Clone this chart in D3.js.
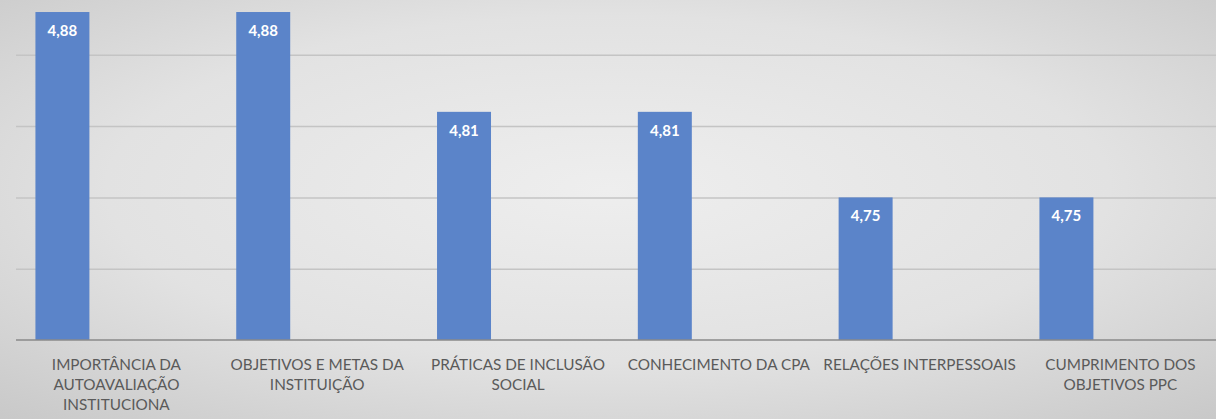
<!DOCTYPE html>
<html>
<head>
<meta charset="utf-8">
<script src="https://cdn.jsdelivr.net/npm/d3@7"></script>
<style>
  html, body { margin: 0; padding: 0; overflow: hidden; }
  svg { display: block; }
</style>
</head>
<body>
<svg id="chart" width="1216" height="419"></svg>
<script>
const categories = [
  'IMPORTÂNCIA DA AUTOAVALIAÇÃO INSTITUCIONA',
  'OBJETIVOS E METAS DA INSTITUIÇÃO',
  'PRÁTICAS DE INCLUSÃO SOCIAL',
  'CONHECIMENTO DA CPA',
  'RELAÇÕES INTERPESSOAIS',
  'CUMPRIMENTO DOS OBJETIVOS PPC'
]
const tickLines = [
  ['IMPORTÂNCIA DA', 'AUTOAVALIAÇÃO', 'INSTITUCIONA'],
  ['OBJETIVOS E METAS DA', 'INSTITUIÇÃO'],
  ['PRÁTICAS DE INCLUSÃO', 'SOCIAL'],
  ['CONHECIMENTO DA CPA'],
  ['RELAÇÕES INTERPESSOAIS'],
  ['CUMPRIMENTO DOS', 'OBJETIVOS PPC']
]
const values = [4.88, 4.88, 4.81, 4.81, 4.75, 4.75]
const gridTicks = [4.65, 4.70, 4.75, 4.80, 4.85, 4.90]
// the original is a clustered chart with three series slots, only the first is filled
const slots = ['s1', 's2', 's3']

const svg = d3.select('#chart')
const W = 1216, H = 419

const defs = svg.append('defs')
const grad = defs.append('radialGradient')
  .attr('id', 'bg')
  .attr('cx', '50%').attr('cy', '45%').attr('r', '75%')
  .attr('gradientUnits', 'objectBoundingBox')
grad.append('stop').attr('offset', '0%').attr('stop-color', '#eeeeee')
grad.append('stop').attr('offset', '55%').attr('stop-color', '#e2e2e2')
grad.append('stop').attr('offset', '100%').attr('stop-color', '#c8c8c8')

svg.append('rect').attr('width', W).attr('height', H).attr('fill', 'url(#bg)')

const x = d3.scaleBand().domain(categories).range([16, 16 + 6 * 200.8]).paddingInner(0).paddingOuter(0)
const xs = d3.scaleBand().domain(slots).range([0, x.bandwidth()]).paddingOuter(0.36).paddingInner(0)
const y = d3.scaleLinear().domain([4.65, 4.90]).range([340, -16.5])

// gridlines
svg.append('g')
  .attr('transform', 'translate(16,0)')
  .call(d3.axisLeft(y).tickValues(gridTicks.slice(1)).tickSize(-(W - 16)).tickFormat(''))
  .call(g => g.select('.domain').remove())
  .call(g => g.selectAll('.tick line').attr('stroke', '#c4c4c4').attr('stroke-width', 1.5))

// bars
svg.append('g').selectAll('rect')
  .data(values)
  .join('rect')
  .attr('x', (d, i) => x(categories[i]) + xs('s1'))
  .attr('width', xs.bandwidth())
  .attr('y', d => y(d))
  .attr('height', d => y(4.65) - y(d))
  .attr('fill', '#5b84c9')

// value labels
svg.append('g').selectAll('text')
  .data(values)
  .join('text')
  .attr('x', (d, i) => x(categories[i]) + xs('s1') + xs.bandwidth() / 2)
  .attr('y', d => y(d) + 24)
  .attr('text-anchor', 'middle')
  .attr('fill', '#ffffff')
  .attr('font-family', 'Lato, "Open Sans", sans-serif')
  .attr('font-weight', 'bold')
  .attr('font-size', '15px')
  .text(d => d.toFixed(2).replace('.', ','))

// x axis
const xAxis = svg.append('g')
  .attr('transform', `translate(0,${y(4.65)})`)
  .call(d3.axisBottom(x).tickSize(0).tickFormat(''))
xAxis.select('.domain').attr('stroke', '#8a8a8a').attr('stroke-width', 1.5).attr('d', `M16,0H${W}`)

xAxis.selectAll('.tick').each(function (d, i) {
  const t = d3.select(this).append('text')
    .attr('text-anchor', 'middle')
    .attr('fill', '#5a5a5a')
    .attr('font-family', 'Lato, "Open Sans", sans-serif')
    .attr('font-size', '15.3px')
  tickLines[i].forEach((line, j) => {
    t.append('tspan').attr('x', 0).attr('y', 30 + j * 20).text(line)
  })
})
</script>
</body>
</html>
